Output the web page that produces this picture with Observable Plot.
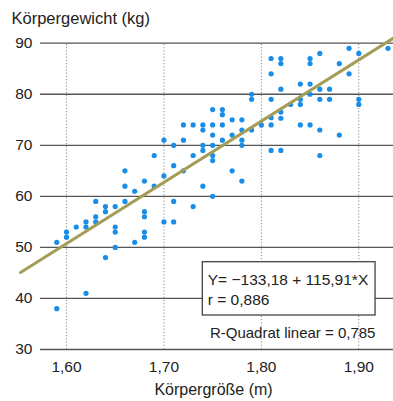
<!DOCTYPE html>
<html><head><meta charset="utf-8">
<script src="https://cdn.jsdelivr.net/npm/d3@7"></script>
<script src="https://cdn.jsdelivr.net/npm/@observablehq/plot@0.6"></script>
<style>
body{margin:0;background:#fff;}
#chart{position:relative;width:393px;height:401px;font-family:"Liberation Sans",Arial,sans-serif;}
#chart svg{position:absolute;left:0;top:0;}
#title{position:absolute;left:11.5px;top:10px;font-size:16.5px;line-height:1;color:#222;z-index:2;white-space:nowrap;}
</style></head><body>
<div id="chart"><div id="title"></div></div>
<script>
// ---- data ----
const heightM = [
  1.59,1.59, 1.60,1.60, 1.61, 1.62,1.62,1.62, 1.63,1.63,1.63, 1.64,1.64,1.64,
  1.65,1.65,1.65,1.65, 1.66,1.66,1.66, 1.67,1.67, 1.68,1.68,1.68,1.68,1.68,
  1.69,1.69, 1.70,1.70,1.70, 1.71,1.71,1.71,1.71, 1.72,1.72,1.72, 1.73,1.73,1.73,
  1.74,1.74,1.74,1.74,1.74, 1.75,1.75,1.75,1.75,1.75,1.75,1.75, 1.76,1.76,1.76,1.76,
  1.77,1.77,1.77, 1.78,1.78,1.78,1.78,1.78, 1.79,1.79,1.79, 1.80,
  1.81,1.81,1.81,1.81,1.81,1.81, 1.82,1.82,1.82,1.82,1.82,1.82, 1.83,
  1.84,1.84,1.84,1.84, 1.85,1.85,1.85,1.85,1.85, 1.86,1.86,1.86,1.86,1.86,
  1.87,1.87, 1.88,1.88, 1.89,1.89, 1.90,1.90,1.90, 1.93
];
const weightKg = [
  51,38, 53,52, 54, 55,54,41, 59,56,55, 58,57,48,
  58,54,53,50, 65,62,59, 61,51, 63,57,56,53,52,
  68,62, 71,64,55, 70,66,59,55, 74,71,65, 74,68,58,
  74,73,70,69,62, 77,74,72,70,68,67,60, 77,76,74,71,
  75,72,65, 75,73,71,70,63, 80,79,73, 74,
  87,84,79,75.4,74,69, 87,86,81,76.5,75.3,69, 78,
  82,79,78,74, 87,86,82,80,74, 88,81,79,73,68,
  81,79, 86,72, 89,84, 88,79,78, 89
];
const fitLineX = [1.5528, 1.9356];
const fitLineY = [45.1, 91.0];
const yTicks = [30, 40, 50, 60, 70, 80, 90];
const xTicks = [1.6, 1.7, 1.8, 1.9];
const yLabel = "Körpergewicht (kg)";
const xLabel = "Körpergröße (m)";
const fitEquation = "Y= −133,18 + 115,91*X";
const fitR = "r = 0,886";
const fitRSquared = "R-Quadrat linear = 0,785";

// ---- layout (positions in data units) ----
const xDomain = [1.55279, 1.93562];
const gridStartX = 1.5733;
const box = {x1: 1.7399, x2: 1.9172, y1: 36.66, y2: 47.1};
const eqPos = {x: 1.7450, y: 43.52};
const rPos = {x: 1.7450, y: 39.6};
const r2Pos = {x: 1.9171, y: 33.27};

document.getElementById("title").textContent = yLabel;

const pts = heightM.map((h, i) => ({h, w: weightKg[i]}));
const fit = fitLineX.map((x, i) => ({x, y: fitLineY[i]}));
const comma = d => d.toFixed(2).replace(".", ",");

const chart = Plot.plot({
  width: 393, height: 401,
  marginLeft: 20, marginRight: 0, marginTop: 42.7, marginBottom: 52,
  x: {domain: xDomain},
  y: {domain: [30, 90]},
  style: {fontFamily: "'Liberation Sans', Arial, sans-serif", fontSize: "15.5px", color: "#222", background: "transparent", overflow: "visible"},
  marks: [
    Plot.ruleX(xTicks, {y1: 30, y2: 90, stroke: "#8c8c8c", strokeDasharray: "1.2,2", strokeWidth: 1}),
    Plot.ruleY(yTicks, {x1: gridStartX, x2: xDomain[1], stroke: "#555", strokeWidth: 1.3}),
    Plot.dot(pts, {x: "h", y: "w", r: 2.6, fill: "#1a8ee6"}),
    Plot.line(fit, {x: "x", y: "y", stroke: "#a39d57", strokeWidth: 3}),
    Plot.rect([box], {x1: "x1", x2: "x2", y1: "y1", y2: "y2", fill: "white", stroke: "#444", strokeWidth: 1.3}),
    Plot.text([fitEquation], {x: eqPos.x, y: eqPos.y, text: d => d, textAnchor: "start", lineAnchor: "middle", fontSize: 15.5, fill: "#222"}),
    Plot.text([fitR], {x: rPos.x, y: rPos.y, text: d => d, textAnchor: "start", lineAnchor: "middle", fontSize: 15.5, fill: "#222"}),
    Plot.text([fitRSquared], {x: r2Pos.x, y: r2Pos.y, text: d => d, textAnchor: "end", lineAnchor: "middle", fontSize: 15, fill: "#222"}),
    Plot.axisX(xTicks, {tickSize: 0, tickPadding: 11, tickFormat: comma, label: null, fontSize: 15.5}),
    Plot.axisY(yTicks, {tickSize: 0, tickPadding: -12, label: null, fontSize: 15.5}),
    Plot.text([xLabel], {frameAnchor: "bottom", lineAnchor: "middle", dx: 6.5, dy: 40, fontSize: 16, fill: "#222", text: d => d})
  ]
});
document.getElementById("chart").appendChild(chart);
</script>
</body></html>
